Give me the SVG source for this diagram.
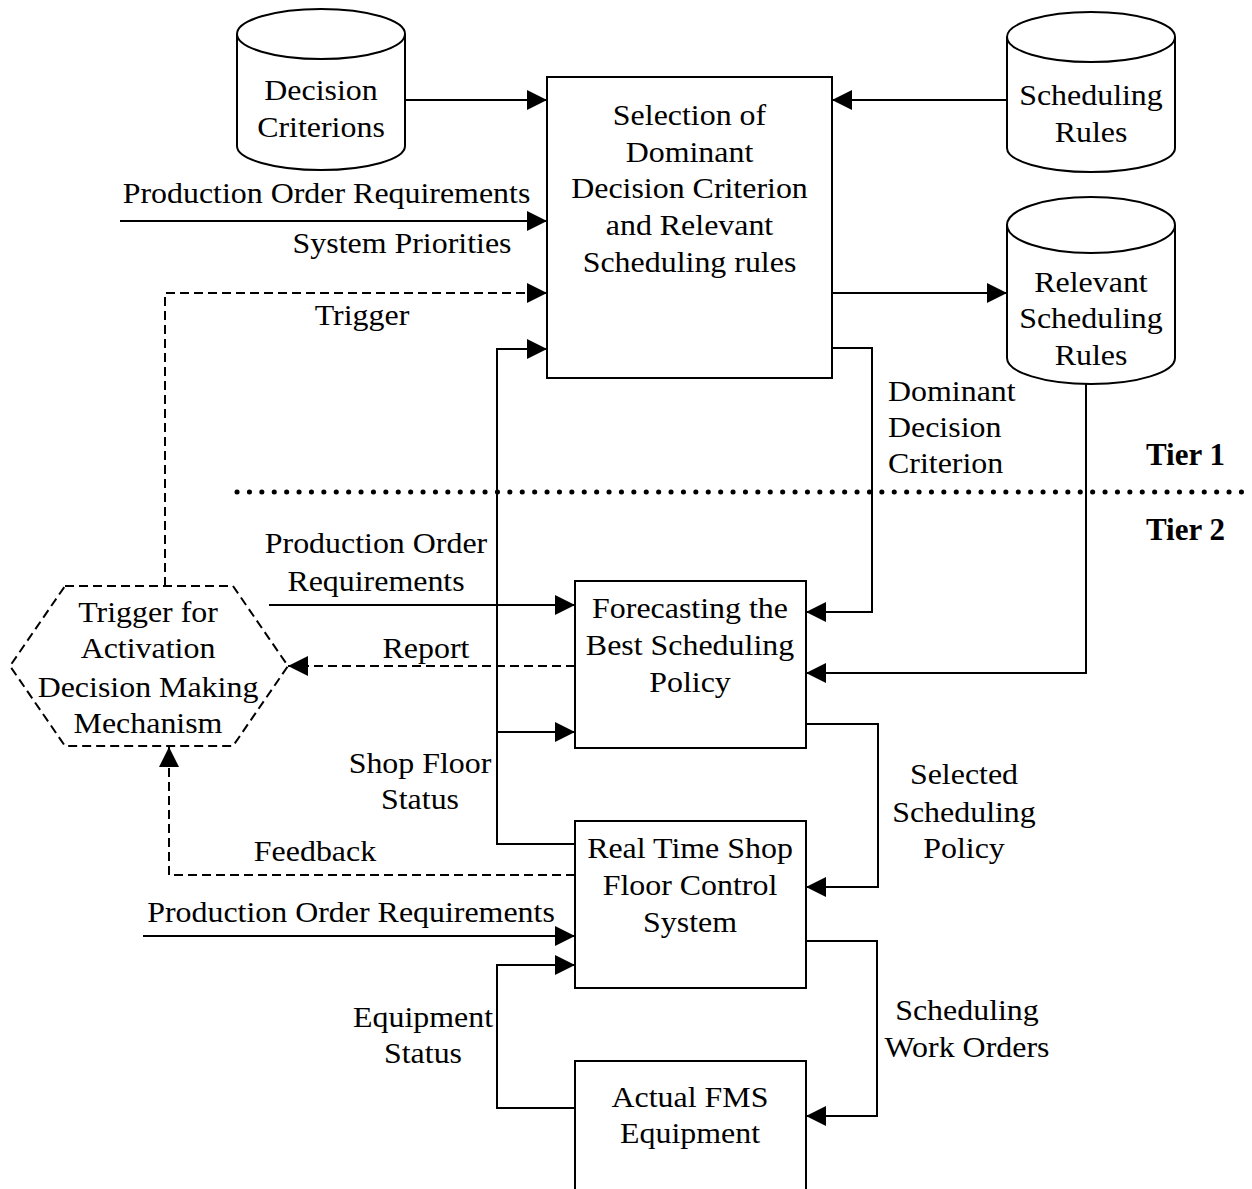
<svg xmlns="http://www.w3.org/2000/svg" width="1252" height="1189" viewBox="0 0 1252 1189">
<style>
.t{font-family:"Liberation Serif","Times New Roman",serif;font-size:28.5px;fill:#000;text-anchor:middle}
.l{text-anchor:start}
.b{font-family:"Liberation Serif","Times New Roman",serif;font-size:31px;font-weight:bold;fill:#000}
.box{fill:#fff;stroke:#000;stroke-width:2}
.cyl{fill:#fff;stroke:#000;stroke-width:2}
.c{fill:none;stroke:#000;stroke-width:2}
.d{stroke-dasharray:9 5}
.a{marker-end:url(#ah)}
</style>
<defs>
<marker id="ah" markerUnits="userSpaceOnUse" markerWidth="20" markerHeight="20" refX="20" refY="10" orient="auto" viewBox="0 0 20 20">
<path d="M0,0 L20,10 L0,20 Z" fill="#000" stroke="none"/>
</marker>
</defs>
<rect width="1252" height="1189" fill="#fff"/>

<g id="connectors">
<path class="c a" d="M405,100 L547,100"/>
<path class="c a" d="M1007,100 L832,100"/>
<path class="c a" d="M120,221 L547,221"/>
<path class="c d a" d="M165,586 L165,293 L547,293"/>
<path class="c a" d="M575,844 L497,844 L497,349 L547,349"/>
<path class="c a" d="M497,732 L575,732"/>
<path class="c a" d="M832,293 L1007,293"/>
<path class="c a" d="M832,348 L872,348 L872,612 L806,612"/>
<path class="c a" d="M1086,384 L1086,673 L806,673"/>
<path class="c a" d="M269,605 L575,605"/>
<path class="c d a" d="M575,666 L288,666"/>
<path class="c a" d="M806,724 L878,724 L878,887 L806,887"/>
<path class="c d a" d="M575,875 L169,875 L169,747"/>
<path class="c a" d="M143,936 L575,936"/>
<path class="c a" d="M575,1108 L497,1108 L497,965 L575,965"/>
<path class="c a" d="M806,941 L877,941 L877,1116 L806,1116"/>
<line x1="237" y1="492" x2="1252" y2="492" stroke="#000" stroke-width="5" stroke-linecap="round" stroke-dasharray="0.1 12.3"/>
</g>

<g id="decision-criterions">
<path class="cyl" d="M237,34 L237,146 A84,24 0 0 0 405,146 L405,34"/>
<ellipse class="cyl" cx="321" cy="34" rx="84" ry="25"/>
<text class="t" transform="translate(321 0) scale(1.12 1)" x="0" y="100">Decision</text>
<text class="t" transform="translate(321 0) scale(1.12 1)" x="0" y="137">Criterions</text>
</g>

<g id="scheduling-rules">
<path class="cyl" d="M1007,37 L1007,148 A84,24 0 0 0 1175,148 L1175,37"/>
<ellipse class="cyl" cx="1091" cy="37" rx="84" ry="25"/>
<text class="t" transform="translate(1091 0) scale(1.12 1)" x="0" y="105">Scheduling</text>
<text class="t" transform="translate(1091 0) scale(1.12 1)" x="0" y="142">Rules</text>
</g>

<g id="relevant-scheduling-rules">
<path class="cyl" d="M1007,225 L1007,358 A84,26 0 0 0 1175,358 L1175,225"/>
<ellipse class="cyl" cx="1091" cy="225" rx="84" ry="28"/>
<text class="t" transform="translate(1091 0) scale(1.12 1)" x="0" y="292">Relevant</text>
<text class="t" transform="translate(1091 0) scale(1.12 1)" x="0" y="328">Scheduling</text>
<text class="t" transform="translate(1091 0) scale(1.12 1)" x="0" y="365">Rules</text>
</g>

<g id="selection">
<rect class="box" x="547" y="77" width="285" height="301"/>
<text class="t" transform="translate(689.5 0) scale(1.12 1)" x="0" y="125">Selection of</text>
<text class="t" transform="translate(689.5 0) scale(1.12 1)" x="0" y="162">Dominant</text>
<text class="t" transform="translate(689.5 0) scale(1.12 1)" x="0" y="198">Decision Criterion</text>
<text class="t" transform="translate(689.5 0) scale(1.12 1)" x="0" y="235">and Relevant</text>
<text class="t" transform="translate(689.5 0) scale(1.12 1)" x="0" y="272">Scheduling rules</text>
</g>

<g id="forecasting">
<rect class="box" x="575" y="581" width="231" height="167"/>
<text class="t" transform="translate(690 0) scale(1.12 1)" x="0" y="618">Forecasting the</text>
<text class="t" transform="translate(690 0) scale(1.12 1)" x="0" y="655">Best Scheduling</text>
<text class="t" transform="translate(690 0) scale(1.12 1)" x="0" y="692">Policy</text>
</g>

<g id="real-time">
<rect class="box" x="575" y="821" width="231" height="167"/>
<text class="t" transform="translate(690 0) scale(1.12 1)" x="0" y="858">Real Time Shop</text>
<text class="t" transform="translate(690 0) scale(1.12 1)" x="0" y="895">Floor Control</text>
<text class="t" transform="translate(690 0) scale(1.12 1)" x="0" y="932">System</text>
</g>

<g id="actual-fms">
<rect class="box" x="575" y="1061" width="231" height="140"/>
<text class="t" transform="translate(690 0) scale(1.12 1)" x="0" y="1107">Actual FMS</text>
<text class="t" transform="translate(690 0) scale(1.12 1)" x="0" y="1143">Equipment</text>
</g>

<g id="trigger-mechanism">
<polygon fill="#fff" stroke="#000" stroke-width="2" stroke-dasharray="9 5" points="65,586 233,586 288,666 233,746 65,746 10,666"/>
<text class="t" transform="translate(148 0) scale(1.12 1)" x="0" y="622">Trigger for</text>
<text class="t" transform="translate(148 0) scale(1.12 1)" x="0" y="658">Activation</text>
<text class="t" transform="translate(148 0) scale(1.12 1)" x="0" y="697">Decision Making</text>
<text class="t" transform="translate(148 0) scale(1.12 1)" x="0" y="733">Mechanism</text>
</g>

<g id="labels">
<text class="t" transform="translate(326.5 0) scale(1.12 1)" x="0" y="203">Production Order Requirements</text>
<text class="t" transform="translate(402 0) scale(1.12 1)" x="0" y="253">System Priorities</text>
<text class="t" transform="translate(362 0) scale(1.12 1)" x="0" y="325">Trigger</text>
<text class="t l" transform="translate(888 0) scale(1.12 1)" x="0" y="401">Dominant</text>
<text class="t l" transform="translate(888 0) scale(1.12 1)" x="0" y="437">Decision</text>
<text class="t l" transform="translate(888 0) scale(1.12 1)" x="0" y="473">Criterion</text>
<text class="b" x="1146" y="465">Tier 1</text>
<text class="b" x="1146" y="540">Tier 2</text>
<text class="t" transform="translate(376 0) scale(1.12 1)" x="0" y="553">Production Order</text>
<text class="t" transform="translate(376 0) scale(1.12 1)" x="0" y="591">Requirements</text>
<text class="t" transform="translate(426 0) scale(1.12 1)" x="0" y="658">Report</text>
<text class="t" transform="translate(420 0) scale(1.12 1)" x="0" y="773">Shop Floor</text>
<text class="t" transform="translate(420 0) scale(1.12 1)" x="0" y="809">Status</text>
<text class="t" transform="translate(315 0) scale(1.12 1)" x="0" y="861">Feedback</text>
<text class="t" transform="translate(351 0) scale(1.12 1)" x="0" y="922">Production Order Requirements</text>
<text class="t" transform="translate(423 0) scale(1.12 1)" x="0" y="1027">Equipment</text>
<text class="t" transform="translate(423 0) scale(1.12 1)" x="0" y="1063">Status</text>
<text class="t" transform="translate(964 0) scale(1.12 1)" x="0" y="784">Selected</text>
<text class="t" transform="translate(964 0) scale(1.12 1)" x="0" y="822">Scheduling</text>
<text class="t" transform="translate(964 0) scale(1.12 1)" x="0" y="858">Policy</text>
<text class="t" transform="translate(967 0) scale(1.12 1)" x="0" y="1020">Scheduling</text>
<text class="t" transform="translate(967 0) scale(1.12 1)" x="0" y="1057">Work Orders</text>
</g>
</svg>
